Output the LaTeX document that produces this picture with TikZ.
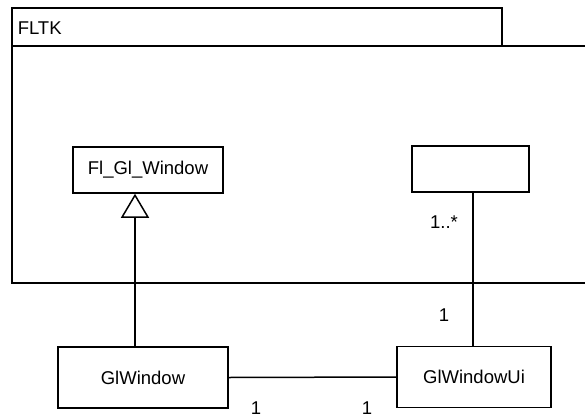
\documentclass[tikz,border=0pt]{standalone}
\usepackage{fontspec}
\setmainfont{Liberation Sans}
\usetikzlibrary{arrows.meta, positioning}

\begin{document}
\begin{tikzpicture}[
  x=1pt, y=-1pt,
  line width=1.5pt,
  every node/.style={font=\fontsize{18.5}{22}\selectfont},
  cls/.style={draw, rectangle, inner sep=0pt, fill=white},
  mult/.style={inner sep=0pt},
  gen/.style={-{Triangle[open, width=28pt, length=24pt]}}
]
  \useasboundingbox (0,0) rectangle (585,417);
  % package FLTK
  \draw (12,8) rectangle (502,46);
  \node[anchor=base west, mult] (pkg) at (17,35) {FLTK};
  \draw (586,46) -- (12,46) -- (12,283) -- (586,283);
  % classes
  \node[cls, minimum width=150pt, minimum height=46pt] (flgl) at (148,170) {Fl\_Gl\_Window};
  \node[cls, minimum width=117pt, minimum height=46pt] (anon) at (470.5,169) {};
  \node[cls, minimum width=170pt, minimum height=61pt] (glwin) at (143,377.5) {GlWindow};
  \node[cls, minimum width=154pt, minimum height=61pt] (glui) at (474,377) {GlWindowUi};
  \coordinate (gx) at (135,0);
  \coordinate (ax) at (473,0);
  % connectors
  \draw[gen] (glwin.north -| gx) -- (flgl.south -| gx);
  \draw (glui.north -| ax) -- (anon.south -| ax);
  \draw (glwin.east) -- (glui.west);
  % multiplicities
  \node[mult] (m1) at (444,222) {1..*};
  \node[mult] (m2) at (444,315) {1};
  \node[mult, anchor=north] (m3) at (256,401) {1};
  \node[mult, anchor=north] (m4) at (367,401) {1};
\end{tikzpicture}
\end{document}
